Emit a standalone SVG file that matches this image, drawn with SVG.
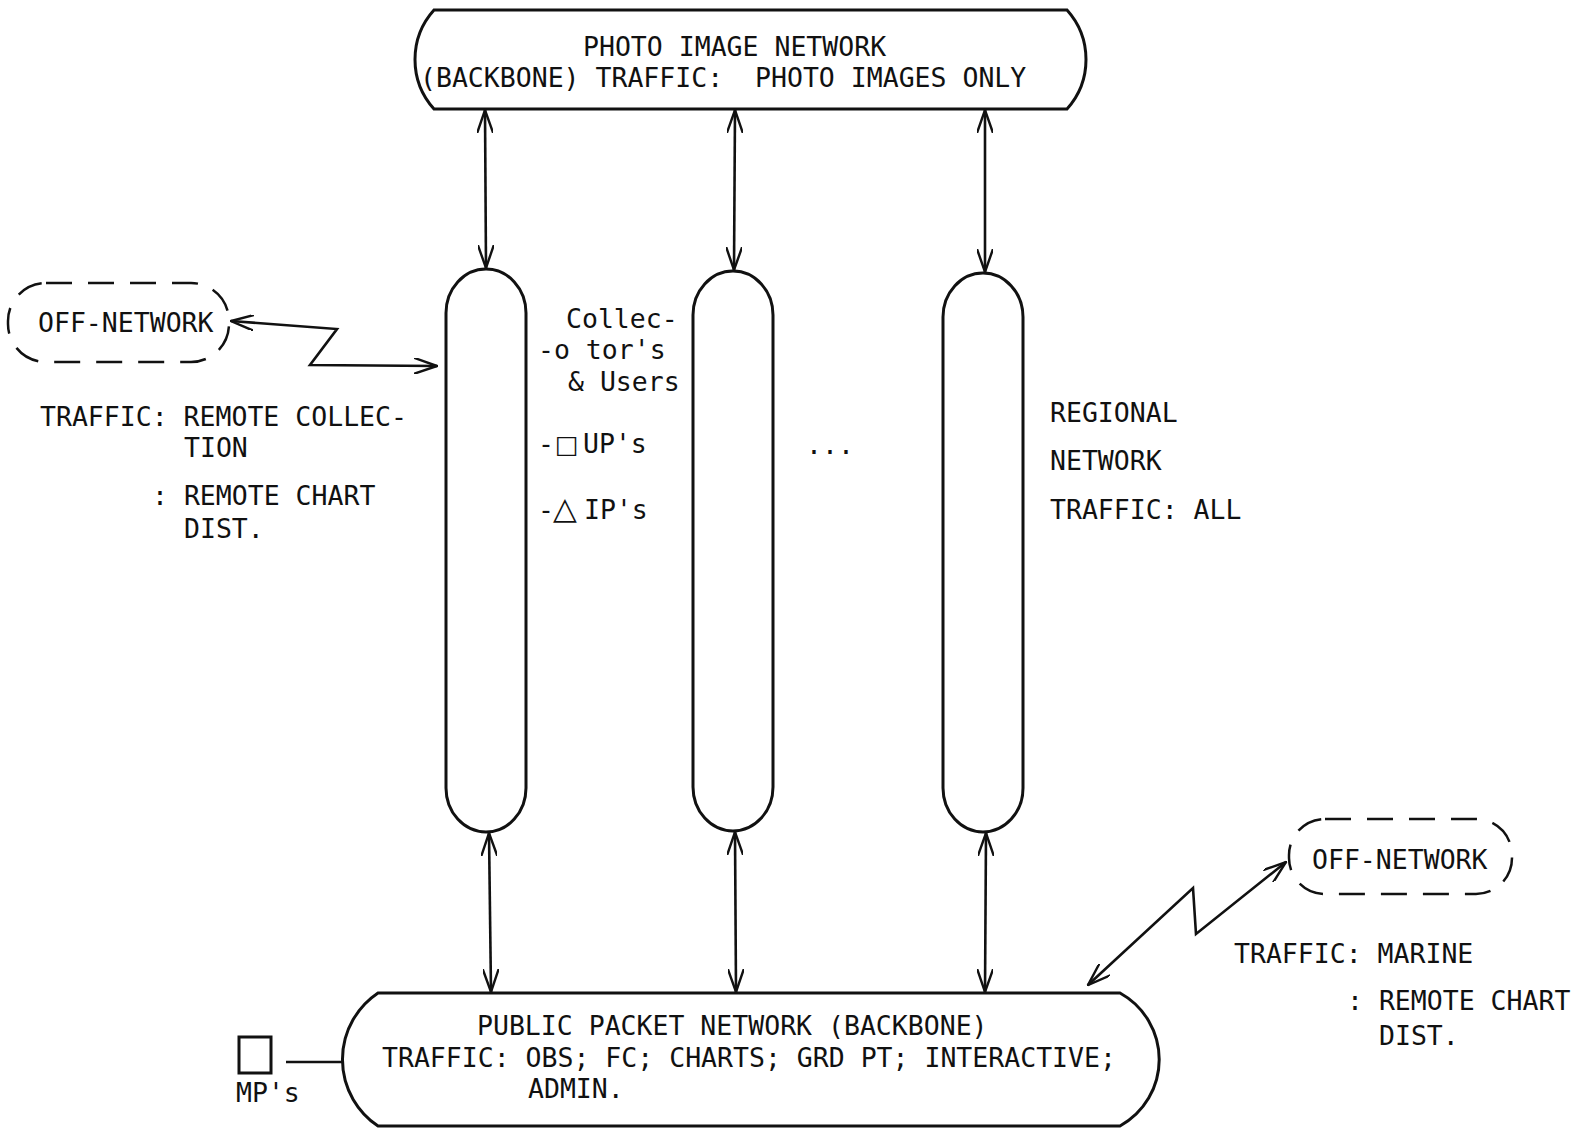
<svg xmlns="http://www.w3.org/2000/svg" width="1576" height="1129" viewBox="0 0 1576 1129">
  <style>
    .t { font-family: "DejaVu Sans Mono", "Liberation Mono", monospace; font-size: 26.5px; fill: #111; }
    .sym { font-family: "DejaVu Sans", "Noto Sans", sans-serif; }
    .shape { fill: none; stroke: #111; stroke-width: 3; }
    .dash { fill: none; stroke: #111; stroke-width: 2.5; stroke-dasharray: 26 16; }
    .link { fill: none; stroke: #111; stroke-width: 2.6; }
  </style>
  <defs>
    <marker id="vee" viewBox="0 0 24 16" refX="23" refY="8" markerWidth="24" markerHeight="16" markerUnits="userSpaceOnUse" orient="auto-start-reverse">
      <path d="M0,0 L23,8 L0,16" fill="none" stroke="#111" stroke-width="2.4"/>
    </marker>
  </defs>
  <rect width="1576" height="1129" fill="#fff"/>

  <!-- photo image backbone -->
  <g id="photo-backbone">
    <path class="shape" d="M434,10 L1067,10 A74,74 0 0 1 1067,109 L434,109 A74,74 0 0 1 434,10 Z"/>
    <text class="t" x="583" y="56">PHOTO IMAGE NETWORK</text>
    <text class="t" x="420" y="87" xml:space="preserve">(BACKBONE) TRAFFIC:  PHOTO IMAGES ONLY</text>
  </g>

  <!-- regional networks -->
  <g id="regional-1">
    <rect class="shape" x="446" y="269" width="80" height="563" rx="40" ry="44"/>
    <text class="t" x="566" y="328">Collec-</text>
    <text class="t" x="538" y="359">-o tor's</text>
    <text class="t" x="568" y="391">&amp; Users</text>
    <text class="t" x="538" y="453">-<tspan class="sym" x="555" font-size="25">□</tspan><tspan x="583">UP's</tspan></text>
    <text class="t" x="538" y="519">-<tspan class="sym" x="553" font-size="31">△</tspan><tspan x="584">IP's</tspan></text>
  </g>
  <g id="regional-2">
    <rect class="shape" x="693" y="271" width="80" height="560" rx="40" ry="44"/>
  </g>
  <text class="t" x="806" y="454">...</text>
  <g id="regional-3">
    <rect class="shape" x="943" y="273" width="80" height="559" rx="40" ry="44"/>
    <text class="t" x="1050" y="422">REGIONAL</text>
    <text class="t" x="1050" y="470">NETWORK</text>
    <text class="t" x="1050" y="519">TRAFFIC: ALL</text>
  </g>

  <!-- off-network, left -->
  <g id="off-network-left">
    <rect class="dash" x="8" y="283" width="221" height="79" rx="38" ry="38"/>
    <text class="t" x="38" y="332">OFF-NETWORK</text>
    <text class="t" x="40" y="426">TRAFFIC: REMOTE COLLEC-</text>
    <text class="t" x="184" y="457">TION</text>
    <text class="t" x="152" y="505">: REMOTE CHART</text>
    <text class="t" x="184" y="538">DIST.</text>
  </g>

  <!-- off-network, right -->
  <g id="off-network-right">
    <rect class="dash" x="1289" y="819" width="223" height="75" rx="36" ry="36"/>
    <text class="t" x="1312" y="869">OFF-NETWORK</text>
    <text class="t" x="1234" y="963">TRAFFIC: MARINE</text>
    <text class="t" x="1347" y="1010">: REMOTE CHART</text>
    <text class="t" x="1379" y="1045">DIST.</text>
  </g>

  <!-- public packet backbone -->
  <g id="packet-backbone">
    <path class="shape" d="M378,993 L1120,993 A76,76 0 0 1 1120,1126 L378,1126 A80,80 0 0 1 378,993 Z"/>
    <text class="t" x="477" y="1035">PUBLIC PACKET NETWORK (BACKBONE)</text>
    <text class="t" x="382" y="1067">TRAFFIC: OBS; FC; CHARTS; GRD PT; INTERACTIVE;</text>
    <text class="t" x="528" y="1098">ADMIN.</text>
  </g>

  <!-- MP terminal -->
  <g id="mp">
    <rect class="shape" x="239" y="1037" width="32" height="36" stroke-width="2.5"/>
    <text class="t" x="236" y="1102">MP's</text>
  </g>

  <!-- connectors -->
  <g id="connectors">
    <line class="link" x1="485" y1="110" x2="486" y2="268" marker-start="url(#vee)" marker-end="url(#vee)"/>
    <line class="link" x1="735" y1="110" x2="734" y2="270" marker-start="url(#vee)" marker-end="url(#vee)"/>
    <line class="link" x1="985" y1="110" x2="985" y2="272" marker-start="url(#vee)" marker-end="url(#vee)"/>
    <line class="link" x1="489" y1="833" x2="491" y2="992" marker-start="url(#vee)" marker-end="url(#vee)"/>
    <line class="link" x1="735" y1="832" x2="736" y2="992" marker-start="url(#vee)" marker-end="url(#vee)"/>
    <line class="link" x1="986" y1="833" x2="985" y2="992" marker-start="url(#vee)" marker-end="url(#vee)"/>
    <polyline class="link" points="231,321 337,329 310,365 437,366" marker-start="url(#vee)" marker-end="url(#vee)"/>
    <polyline class="link" points="1088,985 1193,888 1196,934 1286,862" marker-start="url(#vee)" marker-end="url(#vee)"/>
    <line class="link" x1="286" y1="1062" x2="342" y2="1062"/>
  </g>
</svg>
